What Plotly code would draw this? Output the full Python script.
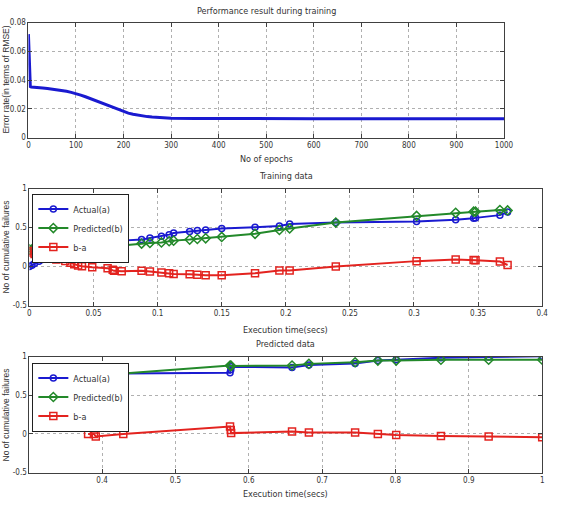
import plotly.graph_objects as go

W, H = 561, 506

# ---- Panel 1: performance during training ----
epochs = [0, 1, 2, 3, 4, 6, 10, 20, 30, 40, 50, 60, 70, 80, 90, 100, 110, 120, 130, 140,
          150, 160, 170, 180, 190, 200, 210, 220, 230, 240, 250, 260, 270, 280, 290, 300,
          350, 400, 500, 600, 700, 800, 900, 1000]
rmse = [0.072, 0.058, 0.045, 0.038, 0.0355, 0.0352, 0.0350, 0.0348, 0.0345, 0.0342, 0.0338,
        0.0334, 0.0328, 0.0322, 0.0315, 0.0307, 0.0296, 0.0284, 0.0271, 0.0258, 0.0246,
        0.0232, 0.0218, 0.0204, 0.0191, 0.0180, 0.0170, 0.0162, 0.0155, 0.0150, 0.0146,
        0.0143, 0.0140, 0.0138, 0.0136, 0.0135, 0.0133, 0.0132, 0.0131, 0.0131, 0.0131,
        0.0131, 0.0131, 0.0131]

# ---- Panel 2: training data ----
t_train = [0.0, 0.002, 0.004, 0.0075, 0.010, 0.014, 0.021, 0.028, 0.032, 0.035, 0.038, 0.041,
           0.049, 0.061, 0.065, 0.066, 0.072, 0.0875, 0.094, 0.103, 0.109, 0.1125, 0.125,
           0.131, 0.1375, 0.150, 0.176, 0.195, 0.203, 0.239, 0.302, 0.3325, 0.3465, 0.348,
           0.367, 0.373]
actual_train = [0.0, 0.017, 0.04, 0.07, 0.09, 0.11, 0.135, 0.155, 0.177, 0.20, 0.22, 0.23,
                0.253, 0.27, 0.295, 0.31, 0.333, 0.346, 0.367, 0.388, 0.41, 0.43, 0.45,
                0.464, 0.47, 0.49, 0.506, 0.52, 0.545, 0.565, 0.58, 0.60, 0.62, 0.625,
                0.66, 0.70]
pred_train = [0.22, 0.22, 0.22, 0.222, 0.224, 0.23, 0.23, 0.23, 0.232, 0.233, 0.235, 0.236,
              0.24, 0.25, 0.253, 0.255, 0.27, 0.295, 0.304, 0.31, 0.325, 0.333, 0.346,
              0.354, 0.363, 0.38, 0.42, 0.47, 0.49, 0.565, 0.65, 0.69, 0.705, 0.705,
              0.725, 0.72]
diff_train = [0.20, 0.18, 0.16, 0.14, 0.125, 0.11, 0.09, 0.072, 0.05, 0.03, 0.015, 0.005,
              -0.01, -0.02, -0.04, -0.055, -0.06, -0.055, -0.063, -0.075, -0.085, -0.095,
              -0.10, -0.105, -0.11, -0.11, -0.086, -0.05, -0.05, 0.0, 0.07, 0.09, 0.085,
              0.08, 0.065, 0.02]

# ---- Panel 3: predicted data ----
t_pred = [0.381, 0.389, 0.3915, 0.429, 0.5745, 0.5755, 0.576, 0.659, 0.682, 0.745, 0.776,
          0.801, 0.862, 0.927, 1.0]
actual_pred = [0.75, 0.75, 0.77, 0.78, 0.79, 0.83, 0.87, 0.86, 0.89, 0.91, 0.949, 0.96,
               0.985, 0.995, 1.005]
pred_pred = [0.75, 0.75, 0.735, 0.78, 0.885, 0.88, 0.88, 0.885, 0.906, 0.927, 0.949, 0.949,
             0.96, 0.96, 0.96]
diff_pred = [0.0, 0.0, -0.034, 0.0, 0.094, 0.05, 0.01, 0.03, 0.017, 0.017, 0.0, -0.013,
             -0.026, -0.034, -0.043]

BLUE = "#1a1ad0"
GREEN = "#23892a"
RED = "#e3231f"
FONT = "Liberation Sans Narrow, DejaVu Sans Condensed, Liberation Sans, Arial"
TXT = "#333333"

fig = go.Figure()

fig.add_trace(go.Scatter(x=epochs, y=rmse, mode="lines", line=dict(color=BLUE, width=3),
                         showlegend=False, xaxis="x", yaxis="y"))

def add_series(x, y, name, color, symbol, xa, ya, legend, size):
    fig.add_trace(go.Scatter(x=x, y=y, mode="lines+markers", name=name,
                             line=dict(color=color, width=2),
                             marker=dict(symbol=symbol, size=size, color=color,
                                         line=dict(color=color, width=1.5)),
                             xaxis=xa, yaxis=ya, legend=legend))

for xa, ya, lg, xs, a, b, d in [("x2", "y2", "legend", t_train, actual_train, pred_train, diff_train),
                                ("x3", "y3", "legend2", t_pred, actual_pred, pred_pred, diff_pred)]:
    add_series(xs, a, "Actual(a)", BLUE, "circle-open", xa, ya, lg, 6)
    add_series(xs, b, "Predicted(b)", GREEN, "diamond-open", xa, ya, lg, 7)
    add_series(xs, d, "b-a", RED, "square-open", xa, ya, lg, 7)

def px_x(p):
    return p / W

def px_y(p):
    return (H - p) / H

axis_common = dict(showline=True, linecolor="#404040", linewidth=1, mirror="ticks",
                   ticks="inside", ticklen=4, tickcolor="#404040",
                   showgrid=True, gridcolor="#b0b0b0", griddash="dot", gridwidth=1,
                   zeroline=False, tickfont=dict(family=FONT, size=8, color=TXT))

legend_common = dict(xanchor="left", yanchor="top", bgcolor="white", bordercolor="#202020",
                     borderwidth=1, font=dict(family=FONT, size=9, color=TXT),
                     tracegroupgap=0, itemwidth=30)

fig.update_layout(
    width=W, height=H, margin=dict(l=0, r=0, t=0, b=0),
    paper_bgcolor="white", plot_bgcolor="white",
    xaxis=dict(domain=[px_x(27), px_x(513)], range=[0, 1000], tickvals=list(range(0, 1001, 100)),
               anchor="y", **axis_common),
    yaxis=dict(domain=[px_y(136), px_y(19)], range=[0, 0.08], tickvals=[0, 0.02, 0.04, 0.06, 0.08],
               ticktext=["0", "0.02", "0.04", "0.06", "0.08"], anchor="x", **axis_common),
    xaxis2=dict(domain=[px_x(28), px_x(552)], range=[0, 0.4],
                tickvals=[0, 0.05, 0.1, 0.15, 0.2, 0.25, 0.3, 0.35, 0.4],
                ticktext=["0", "0.05", "0.1", "0.15", "0.2", "0.25", "0.3", "0.35", "0.4"],
                anchor="y2", **axis_common),
    yaxis2=dict(domain=[px_y(307), px_y(188)], range=[-0.5, 1], tickvals=[-0.5, 0, 0.5, 1],
                ticktext=["-0.5", "0", "0.5", "1"], anchor="x2", **axis_common),
    xaxis3=dict(domain=[px_x(28), px_x(552)], range=[0.301, 1],
                tickvals=[0.4, 0.5, 0.6, 0.7, 0.8, 0.9, 1.0],
                ticktext=["0.4", "0.5", "0.6", "0.7", "0.8", "0.9", "1"],
                anchor="y3", **axis_common),
    yaxis3=dict(domain=[px_y(477), px_y(359)], range=[-0.5, 1], tickvals=[-0.5, 0, 0.5, 1],
                ticktext=["-0.5", "0", "0.5", "1"], anchor="x3", **axis_common),
    legend=dict(x=px_x(31), y=px_y(193), **legend_common),
    legend2=dict(x=px_x(31), y=px_y(365), **legend_common),
    showlegend=True,
)

def ann(text, xpx, ypx, angle=0, size=9, family=FONT):
    fig.add_annotation(text=text, x=px_x(xpx), y=px_y(ypx), xref="paper", yref="paper",
                       showarrow=False, textangle=angle, xanchor="center", yanchor="middle",
                       font=dict(family=family, size=size, color=TXT))

ann("Performance result during training", 270, 7)
ann("No of epochs", 270, 158)
ann("Training data", 290, 175)
ann("Execution time(secs)", 290, 332)
ann("Predicted data", 290, 346)
ann("Execution time(secs)", 290, 499)
YT = "Liberation Sans, Arial"
ann("Error rate(in terms of RMSE)", 4, 77, angle=-90, size=8.5, family=YT)
ann("No of cumulative failures", 4, 247, angle=-90, size=8.5, family=YT)
ann("No of cumulative failures", 4, 418, angle=-90, size=8.5, family=YT)

fig.write_html("out.html")
